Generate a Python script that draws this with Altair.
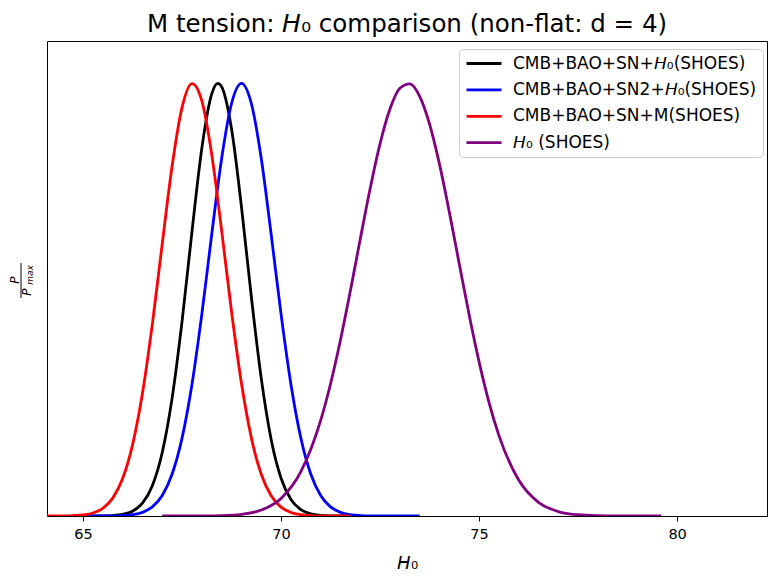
import altair as alt
import pandas as pd

series_labels = ["CMB+BAO+SN+𝘏₀(SHOES)", "CMB+BAO+SN2+𝘏₀(SHOES)",
                 "CMB+BAO+SN+M(SHOES)", "𝘏₀ (SHOES)"]
series_colors = ["#000000", "#0000ff", "#ff0000", "#800080"]
x_ticks = [65, 70, 75, 80]
title_text = ["M tension: 𝘏₀ comparison (non-flat: d = 4)"]

h0_black = [64.75, 65.0, 65.25, 65.5, 65.75, 66.0, 66.25, 66.5, 66.75, 67.0, 67.25, 67.5,
            67.75, 68.0, 68.25, 68.4, 68.5, 68.75, 69.0, 69.25, 69.5, 69.75, 70.0, 70.25,
            70.5, 70.75, 71.0, 71.25, 71.5, 71.75, 72.0]
p_black = [0.0, 0.0, 0.0001, 0.0003, 0.0011, 0.0037, 0.0111, 0.0296, 0.0701, 0.1469, 0.2731,
           0.4500, 0.6570, 0.8504, 0.9756, 1.0, 0.9922, 0.8945, 0.7149, 0.5063, 0.3180, 0.1769,
           0.0873, 0.0382, 0.0148, 0.0051, 0.0015, 0.0004, 0.0001, 0.0, 0.0]

h0_blue = [64.75, 65.0, 65.25, 65.5, 65.75, 66.0, 66.25, 66.5, 66.75, 67.0, 67.25, 67.5,
           67.75, 68.0, 68.25, 68.5, 68.75, 69.0, 69.25, 69.5, 69.75, 70.0, 70.25, 70.5,
           70.75, 71.0, 71.25, 71.5, 71.75, 72.0, 72.25, 72.5, 72.75, 73.0, 73.25, 73.5]
p_blue = [0.0, 0.0, 0.0, 0.0001, 0.0003, 0.0011, 0.0031, 0.0085, 0.0211, 0.0475, 0.0969,
          0.1800, 0.3040, 0.4667, 0.6513, 0.8265, 0.9535, 1.0, 0.9535, 0.8265, 0.6513, 0.4667,
          0.3040, 0.1800, 0.0969, 0.0475, 0.0211, 0.0085, 0.0031, 0.0011, 0.0003, 0.0001,
          0.0, 0.0, 0.0, 0.0]

h0_red = [63.75, 64.0, 64.25, 64.5, 64.75, 65.0, 65.25, 65.5, 65.75, 66.0, 66.25, 66.5,
          66.75, 67.0, 67.25, 67.5, 67.75, 68.0, 68.25, 68.5, 68.75, 69.0, 69.25, 69.5,
          69.75, 70.0, 70.25, 70.5, 70.75, 71.0, 71.25, 71.5, 71.75]
p_red = [0.0, 0.0, 0.0001, 0.0002, 0.0008, 0.0025, 0.0070, 0.0178, 0.0413, 0.0865, 0.1645,
         0.2837, 0.4436, 0.6293, 0.8096, 0.9446, 0.9997, 0.9595, 0.8353, 0.6595, 0.4722,
         0.3067, 0.1807, 0.0965, 0.0468, 0.0206, 0.0082, 0.0030, 0.0010, 0.0003, 0.0001,
         0.0, 0.0]

h0_purple = [67.0, 67.5, 68.0, 68.5, 69.0, 69.5, 70.0, 70.5, 71.0, 71.25, 71.5, 71.75, 72.0,
             72.25, 72.5, 72.75, 73.0, 73.25, 73.5, 73.75, 74.0, 74.25, 74.5, 74.75, 75.0,
             75.25, 75.5, 76.0, 76.5, 77.0, 77.5, 78.0, 78.5, 79.0, 79.6]
p_purple = [0.0, 0.0, 0.0002, 0.0010, 0.0040, 0.0137, 0.0406, 0.1024, 0.2209, 0.3057, 0.4068,
            0.5204, 0.6402, 0.7571, 0.8608, 0.9408, 0.9887, 0.9989, 0.9702, 0.9060, 0.8133,
            0.7019, 0.5825, 0.4647, 0.3564, 0.2628, 0.1863, 0.0832, 0.0317, 0.0103, 0.0029,
            0.0007, 0.0001, 0.0, 0.0]

xs = [h0_black, h0_blue, h0_red, h0_purple]
ys = [p_black, p_blue, p_red, p_purple]

frames = []
for lab, hx, py in zip(series_labels, xs, ys):
    frames.append(pd.DataFrame({"h0": hx, "p": py, "series": lab}))

FONT = "DejaVu Sans"

color = alt.Color(
    "series:N",
    scale=alt.Scale(domain=series_labels, range=series_colors),
    legend=alt.Legend(
        title=None, orient="none", legendX=412, legendY=8,
        symbolType="M-1,0H4", symbolSize=196, symbolStrokeWidth=2.8,
        labelFontSize=17, labelFont=FONT, labelColor="black", labelOffset=31,
        labelLimit=400, padding=6, rowPadding=8.4,
        fillColor="white", strokeColor="#cccccc", cornerRadius=4,
    ),
)

xenc = alt.X(
    "h0:Q",
    scale=alt.Scale(domain=[64.09, 82.27], nice=False, zero=False),
    axis=alt.Axis(
        values=x_ticks, format="d", tickSize=5, tickColor="black", tickWidth=1,
        labelFontSize=14.5, labelFont=FONT, labelColor="black", labelPadding=6,
        domain=False, grid=False, title="𝘏₀", titleFont=FONT, titleFontSize=18,
        titleFontWeight="normal", titleColor="black", titleX=360, titleY=52,
        titleBaseline="alphabetic", titleAlign="center",
    ),
)
yenc = alt.Y("p:Q", scale=alt.Scale(domain=[0, 1.098], nice=False), axis=None)

layers = []
for df in frames:
    layers.append(
        alt.Chart(df).mark_line(strokeWidth=2.8, interpolate="monotone", clip=True)
        .encode(x=xenc, y=yenc, color=color)
    )

# title as a text mark centred over the plot
title = alt.Chart(pd.DataFrame({"t": title_text})).mark_text(
    font=FONT, fontSize=24.5, color="black", align="center", baseline="alphabetic"
).encode(x=alt.value(360), y=alt.value(-9), text="t:N")

# y-axis label drawn as a fraction P / P_max
num = alt.Chart(pd.DataFrame({"t": ["P"]})).mark_text(
    font=FONT, fontStyle="italic", fontSize=12, angle=270, align="center", baseline="middle"
).encode(x=alt.value(-32), y=alt.value(239), text="t:N")
bar = alt.Chart(pd.DataFrame({"t": ["bar"]})).mark_rule(color="black", strokeWidth=1).encode(
    x=alt.value(-26), y=alt.value(222), y2=alt.value(257)
)
den = alt.Chart(pd.DataFrame({"t": ["P"]})).mark_text(
    font=FONT, fontStyle="italic", fontSize=12, angle=270, align="center", baseline="middle"
).encode(x=alt.value(-20), y=alt.value(251), text="t:N")
sub = alt.Chart(pd.DataFrame({"t": ["max"]})).mark_text(
    font=FONT, fontStyle="italic", fontSize=9, angle=270, align="center", baseline="middle"
).encode(x=alt.value(-17.5), y=alt.value(234), text="t:N")

chart = alt.layer(*layers, title, num, bar, den, sub).properties(
    width=720, height=475,
    autosize=alt.AutoSizeParams(type="none"),
    padding={"left": 39, "top": 33, "right": 3, "bottom": 57},
).configure(background="white").configure_view(stroke="black", strokeWidth=1)

chart.save("out.html", embed_options={"renderer": "svg", "actions": False})
